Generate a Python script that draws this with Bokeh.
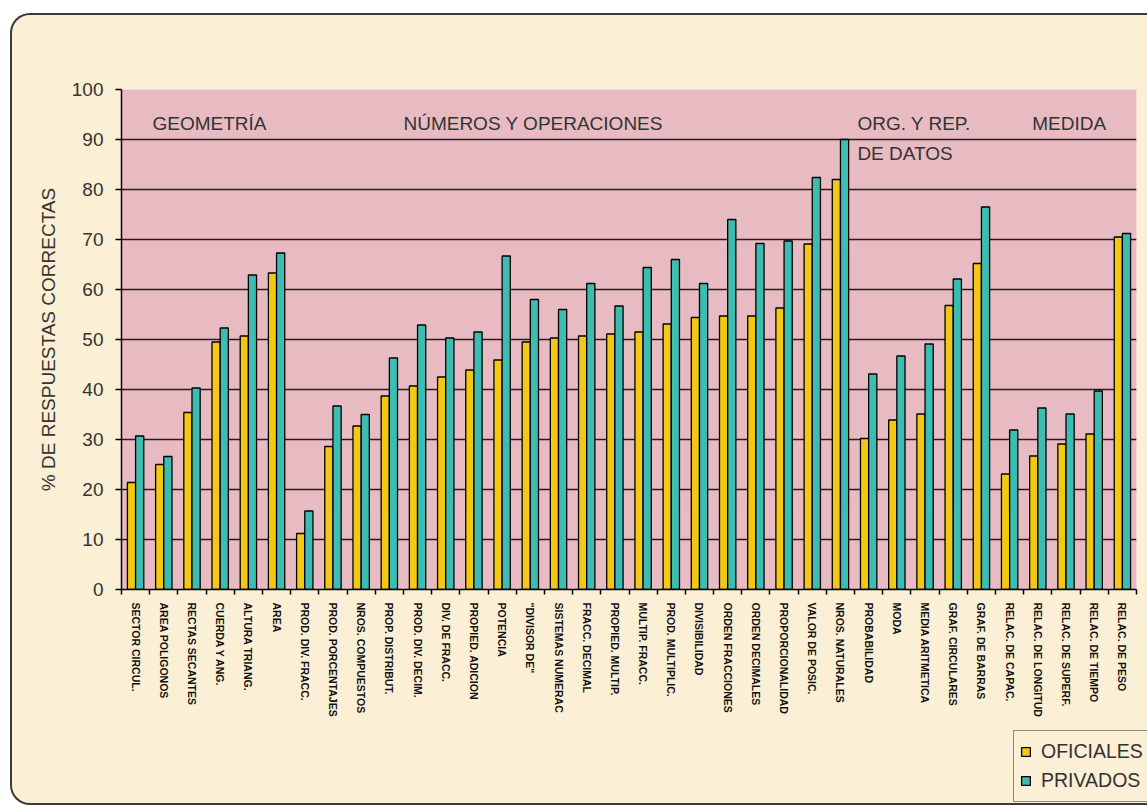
from bokeh.plotting import figure
from bokeh.layouts import column
from bokeh.models import (Range1d, FixedTicker, LinearAxis, ColumnDataSource, Legend,
                          LegendItem, Div)
from bokeh.core.properties import value
from bokeh.embed import file_html
from bokeh.resources import INLINE

categories = [
    "SECTOR CIRCUL.", "AREA POLIGONOS", "RECTAS SECANTES", "CUERDA Y ANG.",
    "ALTURA TRIANG.", "AREA", "PROD. DIV. FRACC.", "PROD. PORCENTAJES",
    "NROS. COMPUESTOS", "PROP. DISTRIBUT.", "PROD. DIV. DECIM.", "DIV. DE FRACC.",
    "PROPIED. ADICION", "POTENCIA", "\"DIVISOR DE\"", "SISTEMAS NUMERAC",
    "FRACC. DECIMAL", "PROPIED. MULTIP.", "MULTIP. FRACC.", "PROD. MULTIPLIC.",
    "DIVISIBILIDAD", "ORDEN FRACCIONES", "ORDEN DECIMALES", "PROPORCIONALIDAD",
    "VALOR DE POSIC.", "NROS. NATURALES", "PROBABILIDAD", "MODA",
    "MEDIA ARITMETICA", "GRAF. CIRCULARES", "GRAF. DE BARRAS", "RELAC. DE CAPAC.",
    "RELAC. DE LONGITUD", "RELAC. DE SUPERF.", "RELAC. DE TIEMPO", "RELAC. DE PESO",
]

oficiales = [21.4, 25.0, 35.4, 49.5, 50.7, 63.3, 11.2, 28.6, 32.7, 38.7, 40.7, 42.5,
             43.9, 45.9, 49.5, 50.3, 50.7, 51.1, 51.5, 53.1, 54.4, 54.7, 54.7, 56.3,
             69.1, 82.0, 30.2, 33.9, 35.1, 56.8, 65.2, 23.1, 26.7, 29.1, 31.1, 70.5]

privados = [30.7, 26.6, 40.3, 52.3, 62.9, 67.3, 15.7, 36.7, 35.0, 46.3, 52.9, 50.3,
            51.5, 66.7, 58.0, 56.0, 61.2, 56.7, 64.4, 66.0, 61.2, 74.0, 69.2, 69.7,
            82.4, 90.0, 43.1, 46.7, 49.1, 62.1, 76.5, 31.9, 36.3, 35.1, 39.7, 71.2]

series_names = ["OFICIALES", "PRIVADOS"]
y_ticks = [0, 10, 20, 30, 40, 50, 60, 70, 80, 90, 100]

section_labels = ["GEOMETRÍA", "NÚMEROS Y OPERACIONES", "ORG. Y REP.", "DE DATOS", "MEDIDA"]
section_x = [1.1, 10.0, 26.1, 26.1, 32.3]
section_y = [93.2, 93.2, 93.2, 87.3, 93.2]

YELLOW = "#F2C814"
CYAN = "#3DBDB2"
PINK = "#E8BBC3"
CREAM = "#FBEFD5"
TXT = "#333333"
FONT = "Liberation Sans"

n = len(categories)
centers = [i + 0.5 for i in range(n)]
bw = 0.29

p = figure(width=1147, height=806, output_backend="svg", toolbar_location=None,
           x_range=Range1d(0, n), y_range=Range1d(0, 100),
           min_border_left=121, min_border_top=89, min_border_right=11,
           min_border_bottom=217, x_axis_location=None, y_axis_location=None)
p.frame_align = False
p.border_fill_color = CREAM
p.background_fill_color = PINK
p.outline_line_color = None

# y axis
yax = LinearAxis(ticker=FixedTicker(ticks=y_ticks))
yax.axis_line_color = "black"
yax.axis_line_width = 1.5
yax.major_tick_out = 6
yax.major_tick_in = 0
yax.major_tick_line_color = "black"
yax.major_tick_line_width = 1.5
yax.minor_tick_line_color = None
yax.major_label_standoff = 12
yax.major_label_text_font = FONT
yax.major_label_text_font_size = "19px"
yax.major_label_text_color = TXT
yax.axis_label = "% DE RESPUESTAS CORRECTAS"
yax.axis_label_text_font = FONT
yax.axis_label_text_font_size = "19px"
yax.axis_label_text_font_style = "normal"
yax.axis_label_text_color = TXT
yax.axis_label_standoff = 10
p.add_layout(yax, "left")

# x axis
xax = LinearAxis(ticker=FixedTicker(ticks=centers, minor_ticks=list(range(n + 1))))
xax.major_label_overrides = {c: lab for c, lab in zip(centers, categories)}
xax.major_label_orientation = "vertical"
xax.axis_line_color = "black"
xax.axis_line_width = 1.5
xax.major_tick_line_color = None
xax.major_tick_out = 0
xax.major_tick_in = 0
xax.minor_tick_line_color = "black"
xax.minor_tick_line_width = 1.5
xax.minor_tick_out = 5
xax.minor_tick_in = 0
xax.major_label_standoff = 8
xax.major_label_text_font = FONT
xax.major_label_text_font_style = "bold"
xax.major_label_text_font_size = "10.5px"
xax.major_label_text_color = "#111111"
p.add_layout(xax, "below")

# grid
p.ygrid.ticker = FixedTicker(ticks=y_ticks[1:-1])
p.ygrid.grid_line_color = "#2a1a1a"
p.ygrid.grid_line_width = 1.5
p.xgrid.grid_line_color = None

src = ColumnDataSource(data=dict(
    xo=[c - bw / 2 for c in centers], xp=[c + bw / 2 for c in centers],
    of=oficiales, pr=privados))

p.vbar(x="xo", top="of", bottom=0, width=bw, source=src,
       fill_color=YELLOW, line_color="black", line_width=1.3)
p.vbar(x="xp", top="pr", bottom=0, width=bw, source=src,
       fill_color=CYAN, line_color="black", line_width=1.3)

tsrc = ColumnDataSource(data=dict(x=section_x, y=section_y, t=section_labels))
p.text(x="x", y="y", text="t", source=tsrc, text_font=value(FONT),
       text_font_size="19px", text_color=TXT, text_baseline="middle",
       text_align="left")

# legend: a small figure laid over the bottom-right corner of the chart
pl = figure(width=134, height=76, output_backend="svg", toolbar_location=None,
            x_range=Range1d(0, 1), y_range=Range1d(0, 1), min_border=0,
            x_axis_location=None, y_axis_location=None,
            styles={"position": "absolute", "left": "1013px", "top": "730px"})
pl.frame_align = False
pl.margin = 0
pl.border_fill_color = CREAM
pl.background_fill_color = CREAM
pl.outline_line_color = None
pl.grid.visible = False
# swatch-only renderers (their single bar lies outside the visible range)
lsrc = ColumnDataSource(data=dict(x=[-5.0], top=[0.0]))
lr1 = pl.vbar(x="x", top="top", width=0.5, source=lsrc,
              fill_color=YELLOW, line_color="black", line_width=1.3)
lr2 = pl.vbar(x="x", top="top", width=0.5, source=lsrc,
              fill_color=CYAN, line_color="black", line_width=1.3)
legend = Legend(items=[LegendItem(label=series_names[0], renderers=[lr1]),
                       LegendItem(label=series_names[1], renderers=[lr2])],
                location="top_left")
legend.label_text_font = FONT
legend.label_text_font_size = "19.5px"
legend.label_text_color = TXT
legend.glyph_width = 11
legend.glyph_height = 11
legend.label_height = 29
legend.label_standoff = 10
legend.padding = 6
legend.spacing = 0
legend.margin = 0
legend.border_line_color = "#222222"
legend.border_line_width = 1.5
legend.background_fill_color = CREAM
legend.background_fill_alpha = 1.0
pl.add_layout(legend, "center")

# rounded outer border of the chart area
frame_div = Div(text="", width=1137, height=792,
                styles={"position": "absolute", "left": "10px", "top": "13px",
                        "box-sizing": "border-box",
                        "border": "2px solid #3a3a3a", "border-right": "none",
                        "border-radius": "20px 0 0 20px",
                        "box-shadow": "0 0 0 40px white",
                        "pointer-events": "none"})
frame_div.margin = 0

layout = column(p, pl, frame_div)
open("out.html", "w").write(file_html(layout, INLINE))
